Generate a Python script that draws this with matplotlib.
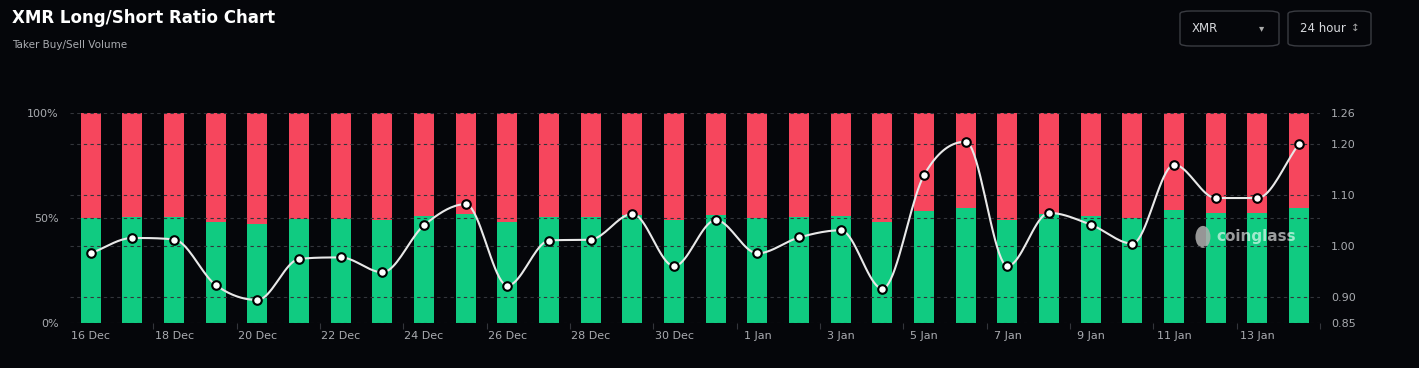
import numpy as np
import matplotlib
matplotlib.use("Agg")
import matplotlib.pyplot as plt
from matplotlib.patches import FancyBboxPatch, Ellipse

dates = ["16 Dec", "17 Dec", "18 Dec", "19 Dec", "20 Dec", "21 Dec", "22 Dec", "23 Dec",
         "24 Dec", "25 Dec", "26 Dec", "27 Dec", "28 Dec", "29 Dec", "30 Dec", "31 Dec",
         "1 Jan", "2 Jan", "3 Jan", "4 Jan", "5 Jan", "6 Jan", "7 Jan", "8 Jan",
         "9 Jan", "10 Jan", "11 Jan", "12 Jan", "13 Jan", "14 Jan"]
long_pct = [49.9, 50.3, 50.3, 48.1, 47.3, 49.4, 49.5, 48.9, 50.9, 52.1,
            48.1, 50.3, 50.3, 51.6, 49.0, 51.4, 49.9, 50.5, 50.8, 48.1,
            53.3, 54.6, 49.0, 51.9, 51.1, 50.2, 53.6, 52.4, 52.4, 54.6]
ratio = [0.986, 1.016, 1.013, 0.924, 0.895, 0.975, 0.978, 0.949, 1.041, 1.082,
         0.923, 1.011, 1.013, 1.063, 0.961, 1.051, 0.986, 1.017, 1.031, 0.917,
         1.139, 1.204, 0.961, 1.065, 1.042, 1.005, 1.159, 1.094, 1.094, 1.200]
ratio_ticks = [0.85, 0.90, 1.00, 1.10, 1.20, 1.26]

BG = "#05060a"
GREEN = "#10cb81"
RED = "#f6465d"
TXT = "#a9abb0"
GRID = "#33353b"


def monotone_curve(x, y, n=20):
    # monotone cubic (Fritsch-Carlson), like d3 curveMonotoneX
    x = np.asarray(x, float)
    y = np.asarray(y, float)
    h = np.diff(x)
    d = np.diff(y) / h
    m = np.zeros_like(y)
    m[0], m[-1] = d[0], d[-1]
    for i in range(1, len(y) - 1):
        if d[i - 1] * d[i] <= 0:
            m[i] = 0
        else:
            m[i] = (d[i - 1] * h[i] + d[i] * h[i - 1]) / (h[i] + h[i - 1])
            m[i] = np.sign(d[i]) * min(abs(m[i]), 3 * abs(d[i - 1]), 3 * abs(d[i]))
    xs, ys = [], []
    for i in range(len(x) - 1):
        t = np.linspace(0, 1, n, endpoint=False)
        h00 = 2 * t**3 - 3 * t**2 + 1
        h10 = t**3 - 2 * t**2 + t
        h01 = -2 * t**3 + 3 * t**2
        h11 = t**3 - t**2
        xs.append(x[i] + t * h[i])
        ys.append(h00 * y[i] + h10 * h[i] * m[i] + h01 * y[i + 1] + h11 * h[i] * m[i + 1])
    xs.append([x[-1]])
    ys.append([y[-1]])
    return np.concatenate(xs), np.concatenate(ys)


fig = plt.figure(figsize=(14.19, 3.68), dpi=100, facecolor=BG)
ax = fig.add_axes([0.0493, 0.1223, 0.8809, 0.5706])
ax.set_facecolor(BG)

x = np.arange(len(dates))
longs = np.array(long_pct)
ax.bar(x, longs, width=0.48, color=GREEN, zorder=2)
ax.bar(x, 100 - longs, bottom=longs, width=0.48, color=RED, zorder=2)
ax.set_xlim(-0.5, len(dates) - 0.5)
ax.set_ylim(0, 100)
ax.set_yticks([0, 50, 100])
ax.set_yticklabels(["0%", "50%", "100%"])
ax.set_xticks(x[::2])
ax.set_xticklabels(dates[::2])
ax.set_xticks(x[1::2] + 0.5, minor=True)
ax.tick_params(axis="x", which="major", length=0, colors=TXT, labelsize=8, pad=6)
ax.tick_params(axis="x", which="minor", length=4, color=GRID, width=0.8)
ax.tick_params(axis="y", length=0, colors=TXT, labelsize=8, pad=8)
for s in ax.spines.values():
    s.set_visible(False)

ax2 = ax.twinx()
ax2.set_ylim(0.85, 1.26)
ax2.set_yticks(ratio_ticks)
ax2.set_yticklabels([f"{v:.2f}" for v in ratio_ticks])
ax2.tick_params(axis="y", length=0, colors=TXT, labelsize=8, pad=8)
for s in ax2.spines.values():
    s.set_visible(False)
for v in ratio_ticks:
    ax2.axhline(v, color=GRID, lw=0.8, ls=(0, (3, 3)), zorder=1)
ax2.axhline(1.26 - 0.41 * 0.5, color=GRID, lw=0.8, ls=(0, (3, 3)), zorder=1)

cx, cy = monotone_curve(x, ratio)
ax2.plot(cx, cy, color="#e8e8e8", lw=1.5, zorder=3)
ax2.scatter(x, ratio, s=38, facecolor="white", edgecolor="black", linewidth=1.5, zorder=4)

# watermark
ax.add_patch(Ellipse(((1203 - 70) / 1250, 0.41), 15 / 1250, 22 / 210, transform=ax.transAxes,
                     facecolor="#b0b0b0", alpha=0.85, zorder=5))
ax.text((1256 - 70) / 1250, 0.41, "coinglass", transform=ax.transAxes, fontsize=11,
        fontweight="bold", color="white", alpha=0.6, ha="center", va="center", zorder=5)

fig.text(12 / 1419, 1 - 18 / 368, "XMR Long/Short Ratio Chart", color="white",
         fontsize=12, fontweight="bold", va="center", ha="left")
fig.text(12 / 1419, 1 - 45 / 368, "Taker Buy/Sell Volume", color=TXT, fontsize=7.5,
         va="center", ha="left")

for (x0, x1, label, arrow, ax_) in [(1180, 1279, "XMR", "\u25be", 1262),
                                     (1288, 1371, "24 hour", "\u2195", 1355)]:
    box = FancyBboxPatch((x0 / 1419, 1 - 46 / 368), (x1 - x0) / 1419, 35 / 368,
                         boxstyle="round,pad=0,rounding_size=0.008", transform=fig.transFigure,
                         facecolor=BG, edgecolor="#3a3c42", lw=1)
    fig.add_artist(box)
    fig.text((x0 + 12) / 1419, 1 - 28 / 368, label, color="#d8dade", fontsize=8.5,
             va="center", ha="left")
    fig.text(ax_ / 1419, 1 - 28 / 368, arrow, color="#aaaaaa", fontsize=7.5,
             va="center", ha="center")

fig.savefig("out.png", dpi=100, facecolor=BG)
